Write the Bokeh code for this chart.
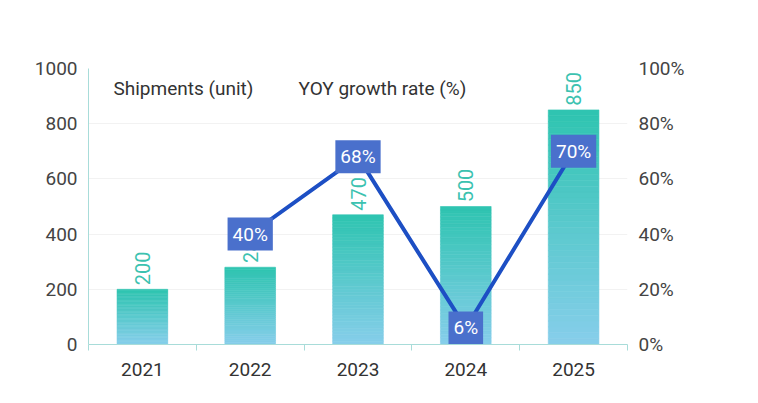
import numpy as np
from bokeh.plotting import figure
from bokeh.models import Range1d, LinearAxis, FixedTicker, Label
from bokeh.core.properties import value
from bokeh.embed import file_html
from bokeh.resources import INLINE

years = ["2021", "2022", "2023", "2024", "2025"]
shipments = [200, 280, 470, 500, 850]
growth_years = ["2022", "2023", "2024", "2025"]
growth = [40, 68, 6, 70]

FONT = "Roboto"
FS = "19px"
p = figure(width=750, height=395, output_backend="svg", toolbar_location=None,
           x_range=Range1d(0, 5), y_range=Range1d(0, 1000),
           min_border_left=88, min_border_right=123, min_border_top=68, min_border_bottom=51)
p.outline_line_color = None
p.extra_y_ranges = {"pct": Range1d(0, 100)}

xpos = {y: i + 0.5 for i, y in enumerate(years)}
bw = 0.47
n = 40
top_c = np.array([46, 196, 176]); bot_c = np.array([135, 206, 235])
l, r, b, t, c = [], [], [], [], []
for yr, v in zip(years, shipments):
    for k in range(n):
        f0, f1 = k / n, (k + 1) / n
        col = bot_c + (top_c - bot_c) * ((f0 + f1) / 2)
        l.append(xpos[yr] - bw / 2); r.append(xpos[yr] + bw / 2)
        b.append(v * f0); t.append(v * f1)
        c.append("#%02x%02x%02x" % tuple(int(round(x)) for x in col))
p.quad(left=l, right=r, bottom=b, top=t, fill_color=c, line_color=c, line_width=0.6)

p.text(x=[xpos[y] for y in years], y=[v + 15 for v in shipments], text=[str(v) for v in shipments],
       angle=np.pi / 2, text_align="left", text_baseline="middle", text_color="#3cc2b0",
       text_font=value(FONT), text_font_size="20px")

gx = [xpos[y] for y in growth_years]
p.line(gx, growth, y_range_name="pct", line_color="#1d4fc4", line_width=4)
p.text(x=gx, y=growth, y_range_name="pct", text=[f"{g}%" for g in growth],
       text_align="center", text_baseline="middle", text_color="white",
       text_font=value(FONT), text_font_size=FS,
       background_fill_color="#4a70cc", padding=5)

axis_col = "#a8dcd9"
p.yaxis.ticker = FixedTicker(ticks=[0, 200, 400, 600, 800, 1000])
p.yaxis.axis_line_color = axis_col
p.yaxis.major_tick_line_color = None
p.yaxis.minor_tick_line_color = None
p.yaxis.major_label_text_font = FONT
p.yaxis.major_label_text_font_size = FS
p.yaxis.major_label_text_color = "#444444"

ra = LinearAxis(y_range_name="pct", ticker=FixedTicker(ticks=[0, 20, 40, 60, 80, 100]))
ra.major_label_overrides = {v: f"{v}%" for v in [0, 20, 40, 60, 80, 100]}
ra.axis_line_color = None
ra.major_tick_line_color = None
ra.minor_tick_line_color = None
ra.major_label_text_font = FONT
ra.major_label_text_font_size = FS
ra.major_label_text_color = "#444444"
p.add_layout(ra, "right")

p.xaxis.ticker = FixedTicker(ticks=[i + 0.5 for i in range(5)], minor_ticks=[0, 1, 2, 3, 4, 5])
p.xaxis.major_label_overrides = {i + 0.5: y for i, y in enumerate(years)}
p.xaxis.major_tick_line_color = None
p.xaxis.minor_tick_line_color = axis_col
p.xaxis.minor_tick_out = 6
p.xaxis.minor_tick_in = 0
p.xaxis.axis_line_color = axis_col
p.xaxis.major_label_standoff = 12
p.xaxis.major_label_text_font = FONT
p.xaxis.major_label_text_font_size = FS
p.xaxis.major_label_text_color = "#333333"

p.xgrid.grid_line_color = None
p.ygrid.ticker = FixedTicker(ticks=[200, 400, 600, 800, 1000])
p.ygrid.grid_line_color = "#f2f2f2"

for txt, xx in [("Shipments (unit)", 113 - 88), ("YOY growth rate (%)", 298 - 88)]:
    p.add_layout(Label(x=xx, y=276 - 20, x_units="screen", y_units="screen", text=txt,
                       text_font=FONT, text_font_size=FS, text_color="#333333",
                       text_baseline="middle"))

open("out.html", "w").write(file_html(p, INLINE))
